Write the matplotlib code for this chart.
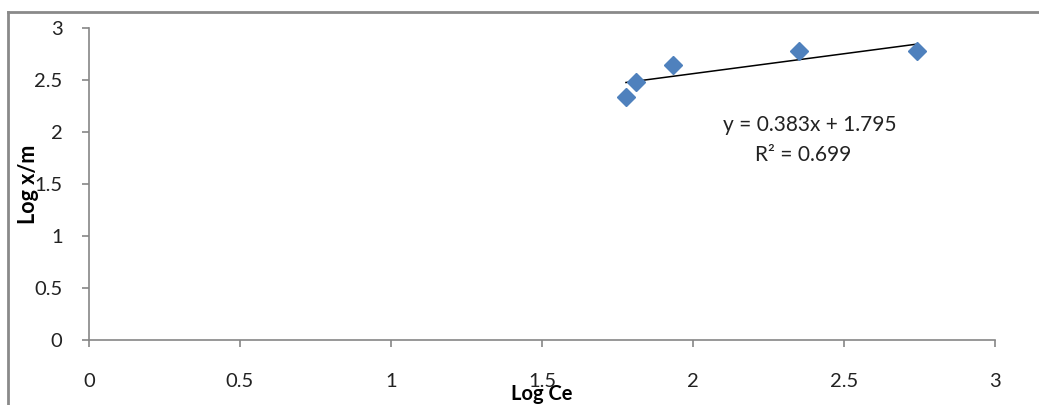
import matplotlib
matplotlib.use("Agg")
import matplotlib.pyplot as plt
from matplotlib.lines import Line2D
import numpy as np

plt.rcParams['font.family'] = ['Lato', 'DejaVu Sans']

log_ce = [1.778, 1.811, 1.934, 2.351, 2.742]
log_xm = [2.337, 2.485, 2.644, 2.779, 2.775]
slope = 0.383
intercept = 1.795
eq_text = "y = 0.383x + 1.795"
r2_text = "R² = 0.699"
xticks = [0, 0.5, 1, 1.5, 2, 2.5, 3]
yticks = [0, 0.5, 1, 1.5, 2, 2.5, 3]

fig = plt.figure(figsize=(10.39, 4.05), dpi=100)
ax = fig.add_axes([89/1039, 65/405, 906/1039, 312/405])

axis_col = '#868686'
ax.plot(log_ce, log_xm, linestyle='none', marker='D', markersize=9,
        color='#4F81BD', zorder=3)
xf = np.array([min(log_ce), max(log_ce)])
ax.plot(xf, slope * xf + intercept, color='black', lw=1.1, zorder=2)

ax.set_xlim(0, 3)
ax.set_ylim(0, 3)
ax.set_xticks(xticks)
ax.set_yticks(yticks)
ax.set_xticklabels([f"{t:g}" for t in xticks])
ax.set_yticklabels([f"{t:g}" for t in yticks])
for s in ['top', 'right']:
    ax.spines[s].set_visible(False)
for s in ['left', 'bottom']:
    ax.spines[s].set_color(axis_col)
    ax.spines[s].set_linewidth(1.2)
ax.tick_params(axis='x', direction='out', length=5, width=1.2, color=axis_col,
               pad=19, labelsize=14.5, labelcolor='#222222')
ax.tick_params(axis='y', direction='out', length=5, width=1.2, color=axis_col,
               pad=14, labelsize=14.5, labelcolor='#222222')

ax.set_ylabel("Log x/m", fontsize=15.5, fontweight='bold')
ax.yaxis.set_label_coords(-50/906, 0.5)
fig.text(542/1039, 1 - 394/405, "Log Ce", fontsize=14.5, fontweight='bold',
         ha='center', va='center')

ax.text(2.387, 2.067, eq_text, fontsize=15, ha='center', va='center', color='#222222')
ax.text(2.364, 1.78, r2_text, fontsize=15, ha='center', va='center', color='#222222')

# outer chart frame (top and left edges)
fig.add_artist(Line2D([8/1039, 1.0], [1 - 12/405, 1 - 12/405],
                      transform=fig.transFigure, color='#8a8a8a', lw=2))
fig.add_artist(Line2D([8/1039, 8/1039], [0, 1 - 12/405],
                      transform=fig.transFigure, color='#8a8a8a', lw=2))

fig.savefig("out.png", dpi=100)
